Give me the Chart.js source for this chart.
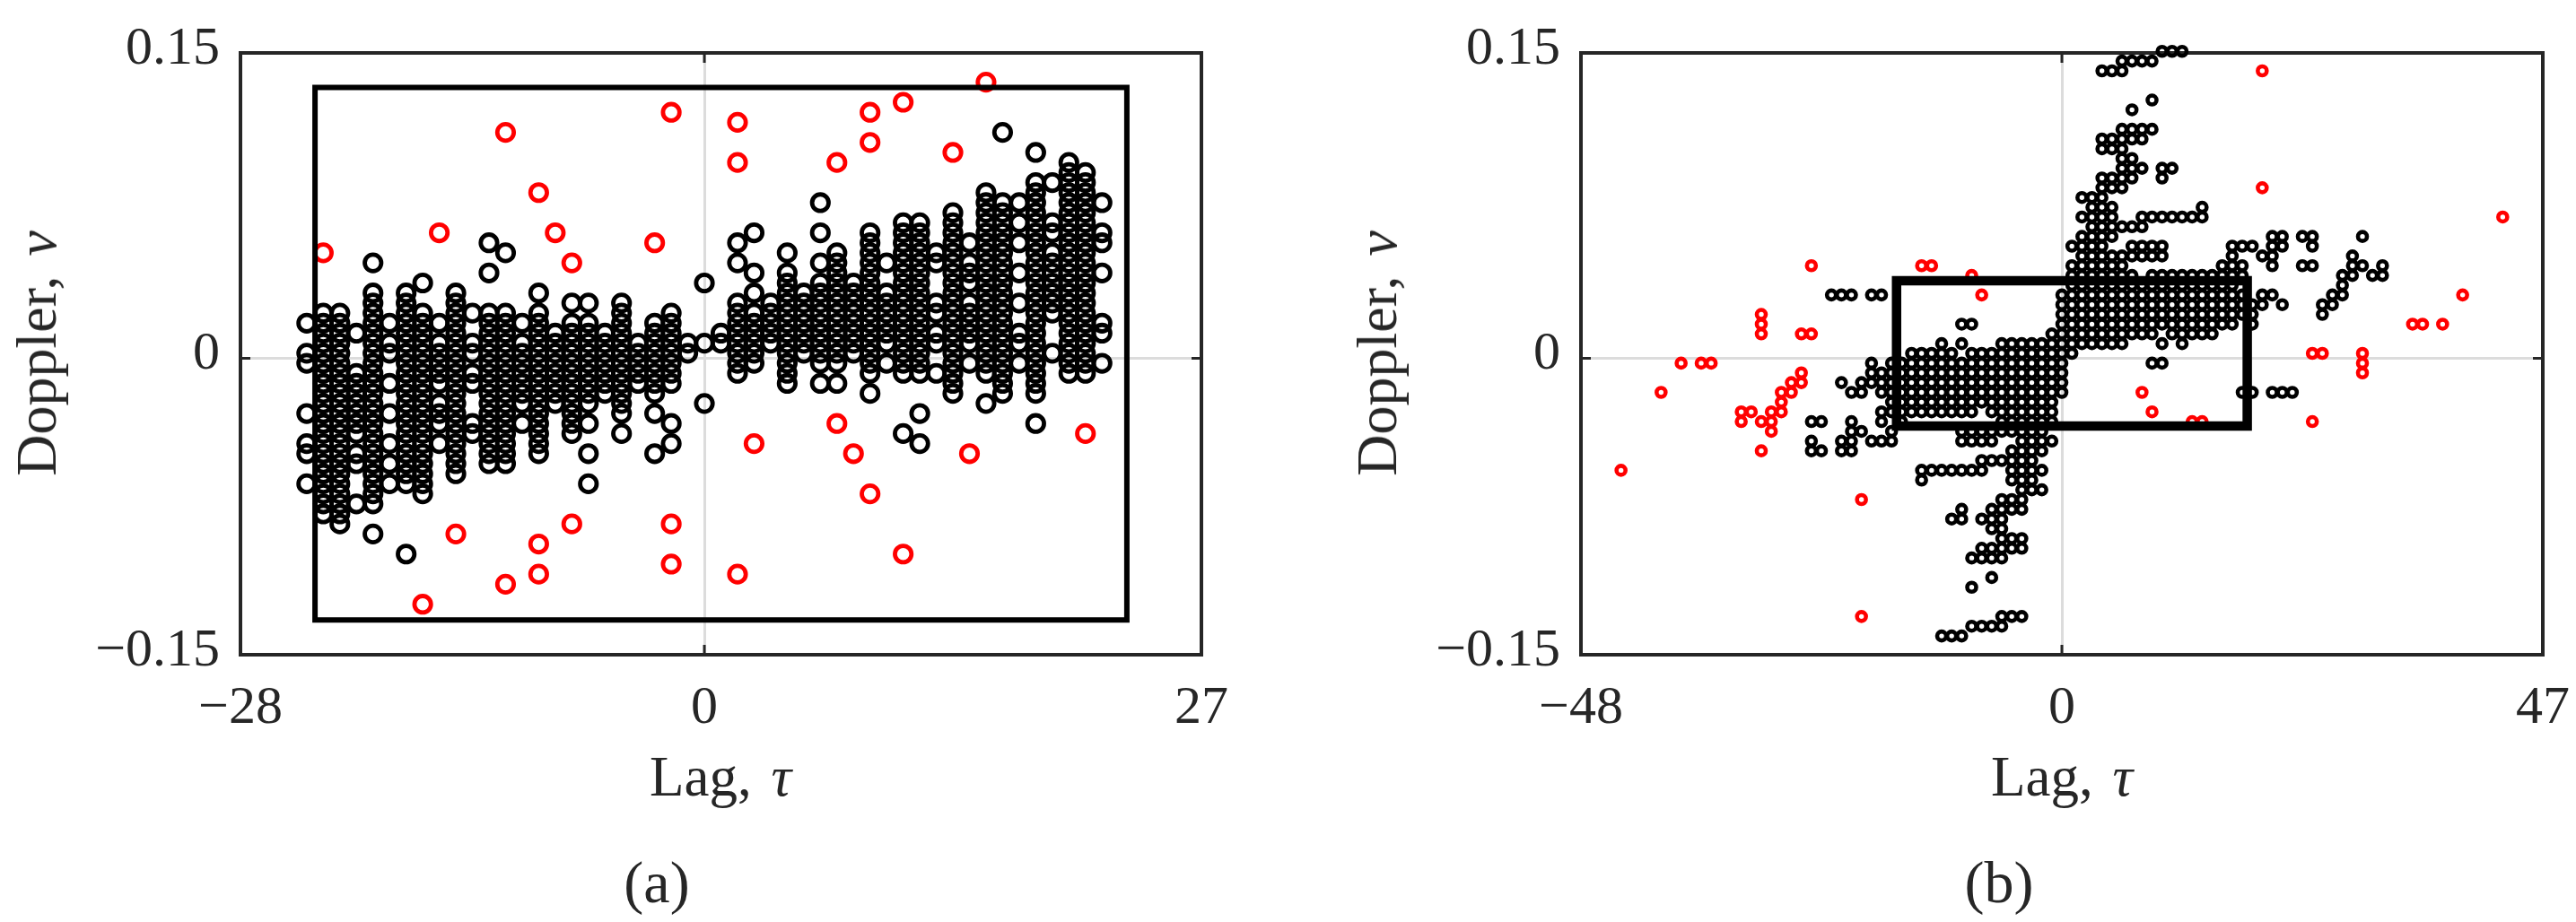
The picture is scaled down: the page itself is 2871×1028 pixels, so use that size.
<!DOCTYPE html>
<html>
<head>
<meta charset="utf-8">
<title>Lag-Doppler support</title>
<script src="https://cdn.jsdelivr.net/npm/chart.js@4/dist/chart.umd.min.js"></script>
<style>
    body { margin: 0; background: #fff; width: 2871px; height: 1028px; overflow: hidden; }
    canvas { position: absolute; top: 0; }
    .lbl { position: absolute; font-family: "Liberation Serif", serif; color: #262626; white-space: nowrap; line-height: 1; word-spacing: 6px; transform: translate(-50%, -50%); }
    .ylab { transform: translate(-50%, -50%) rotate(-90deg); }
</style>
</head>
<body>
<canvas id="chartA" width="1436" height="1028" style="left:0"></canvas>
<canvas id="chartB" width="1435" height="1028" style="left:1436px"></canvas>

<div class="lbl ylab" style="left:41px;top:394px;font-size:64px">Doppler, <i>ν</i></div>
<div class="lbl" style="left:803px;top:866px;font-size:63px">Lag, <i>τ</i></div>
<div class="lbl" style="left:732px;top:984px;font-size:66px">(a)</div>
<div class="lbl ylab" style="left:1535px;top:394px;font-size:64px">Doppler, <i>ν</i></div>
<div class="lbl" style="left:2298px;top:866px;font-size:63px">Lag, <i>τ</i></div>
<div class="lbl" style="left:2228px;top:984px;font-size:66px">(b)</div>

<script>
// doppler bin widths of the two panels (a bin k sits at (k + 0.5) * width)
const binWidthA = 0.00508;
const binWidthB = 0.00493;

// panel (a), black points: one list of doppler bins per lag
const lagsA = [-24, -23, -22, -21, -20, -19, -18, -17, -16, -15, -14, -13, -12, -11, -10, -9, -8, -7, -6, -5, -4, -3, -2, -1,
    0, 1, 2, 3, 4, 5, 6, 7, 8, 9, 10, 11, 12, 13, 14, 15, 16, 17, 18, 19, 20, 21, 22, 23, 24];
const binsA = [
    [3, 0, -1, -6, -9, -10, -13],
    [4, 3, 2, 1, 0, -1, -2, -3, -4, -5, -6, -7, -8, -9, -10, -11, -12, -13, -14, -15, -16],
    [4, 3, 2, 1, 0, -1, -2, -3, -4, -5, -6, -7, -8, -9, -10, -11, -12, -13, -14, -15, -16, -17],
    [2, -2, -3, -4, -5, -6, -7, -8, -10, -11, -15],
    [9, 6, 5, 4, 3, 2, 1, 0, -1, -2, -3, -4, -5, -6, -7, -8, -9, -10, -11, -12, -13, -14, -15, -18],
    [3, 1, 0, -3, -6, -9, -11, -13],
    [6, 5, 4, 3, 2, 1, 0, -1, -2, -3, -4, -5, -6, -7, -8, -9, -10, -11, -12, -13, -20],
    [7, 4, 3, 2, 1, 0, -1, -2, -3, -4, -5, -6, -7, -8, -9, -10, -11, -12, -13, -14],
    [3, 1, 0, -1, -2, -3, -5, -6, -7, -9],
    [6, 5, 4, 3, 2, 1, 0, -1, -2, -3, -4, -5, -6, -7, -8, -9, -10, -11, -12],
    [4, 1, 0, -2, -3, -7, -8],
    [11, 8, 4, 3, 2, 1, 0, -1, -2, -3, -4, -5, -6, -7, -8, -9, -10, -11],
    [10, 4, 3, 2, 1, 0, -1, -2, -3, -4, -5, -6, -7, -8, -9, -10, -11],
    [3, 1, 0, -1, -2, -3, -4, -5, -7],
    [6, 4, 3, 2, 1, 0, -1, -2, -3, -4, -5, -6, -7, -8, -9, -10],
    [2, 1, 0, -1, -2, -3, -4, -5],
    [5, 3, 2, 1, 0, -1, -2, -3, -4, -5, -6, -7, -8],
    [5, 3, 2, 1, 0, -1, -2, -3, -4, -5, -7, -10, -13],
    [2, 1, 0, -1, -2, -3, -4],
    [5, 4, 3, 2, 1, 0, -1, -2, -3, -4, -5, -6, -8],
    [1, 0, -1, -2, -3],
    [3, 2, 1, 0, -1, -2, -3, -4, -6, -10],
    [4, 3, 2, 1, 0, -1, -2, -3, -7, -9],
    [1, 0],
    [7, 1, -5],
    [2, 1],
    [11, 9, 5, 4, 3, 2, 1, 0, -1, -2],
    [12, 8, 6, 4, 3, 2, 1, 0, -1],
    [5, 4, 3, 2, 1],
    [10, 8, 7, 6, 5, 4, 3, 2, 1, 0, -1, -2, -3],
    [6, 5, 4, 3, 2, 1, 0],
    [15, 12, 9, 7, 6, 5, 4, 3, 2, 1, 0, -1, -3],
    [10, 9, 8, 7, 6, 5, 4, 3, 2, 1, 0, -1, -3],
    [7, 6, 5, 4, 3, 2, 1, 0],
    [12, 11, 10, 9, 8, 7, 6, 5, 4, 3, 2, 1, 0, -1, -2, -4],
    [9, 6, 5, 4, 3, 2, 1, -1],
    [13, 12, 11, 10, 9, 8, 7, 6, 5, 4, 3, 2, 1, 0, -1, -2, -8],
    [13, 12, 11, 10, 9, 8, 7, 6, 5, 4, 3, 2, 1, 0, -1, -2, -6, -9],
    [10, 9, 5, 4, 2, 1, -2],
    [14, 13, 12, 11, 10, 9, 8, 7, 6, 5, 4, 3, 2, 1, 0, -1, -2, -3, -4],
    [11, 9, 8, 7, 5, 4, 3, 2, 1, -1],
    [16, 15, 14, 13, 12, 11, 10, 9, 8, 7, 6, 5, 4, 3, 2, 1, 0, -1, -2, -5],
    [22, 15, 14, 13, 12, 11, 10, 9, 8, 7, 6, 5, 4, 3, 2, 1, 0, -1, -2, -3, -4],
    [15, 13, 11, 8, 5, 2, 1, -1],
    [20, 17, 16, 15, 14, 13, 12, 11, 10, 9, 8, 7, 6, 5, 4, 3, 2, 1, 0, -1, -2, -3, -4, -7],
    [17, 13, 12, 10, 9, 8, 7, 6, 5, 4, 0],
    [19, 18, 17, 16, 15, 14, 13, 12, 11, 10, 9, 8, 7, 6, 5, 4, 3, 2, 1, 0, -1, -2],
    [18, 17, 16, 15, 14, 13, 12, 11, 10, 9, 8, 7, 6, 5, 4, 3, 2, 1, 0, -1, -2],
    [15, 12, 11, 8, 3, 2, -1]
];

// panel (a), red points
const redLagA = [-23, -17, -16, -15, -12, -12, -10, -10, -10, -9, -8, -8, -3, -2, -2, -2, 2, 2, 2, 3, 8, 8, 9, 10, 10, 10, 12, 12, 15, 16, 17, 23];
const redBinA = [10, -25, 12, -18, 22, -23, 16, -19, -22, 12, 9, -17, 11, 24, -17, -21, 23, 19, -22, -9, 19, -7, -10, 24, 21, -14, 25, -20, 20, -10, 27, -8];

// panel (b), black points: one list of lags per doppler bin
const rowsB = [31, 30, 29, 26, 25, 23, 22, 21, 20, 19, 18, 17, 16, 15, 14, 13, 12, 11, 10, 9, 8, 7, 6, 5, 4, 3, 2, 1, 0,
    -1, -2, -3, -4, -5, -6, -7, -8, -9, -10, -11, -12, -13, -14, -15, -16, -17, -18, -19, -20, -21, -23, -24, -27, -28, -29];
const lagsB = [
    [10, 11, 12],
    [6, 7, 8, 9],
    [4, 5, 6],
    [9],
    [7],
    [6, 7, 8, 9],
    [4, 5, 6, 7, 8],
    [4, 5, 6],
    [6, 7],
    [6, 7, 8, 10, 11],
    [4, 5, 6, 7, 10],
    [4, 5, 6],
    [2, 3, 4],
    [3, 4, 5, 14],
    [2, 3, 4, 5, 8, 9, 10, 11, 12, 13, 14],
    [3, 4, 5, 6, 7, 8],
    [2, 3, 4, 5, 21, 22, 24, 25, 30],
    [1, 2, 3, 4, 7, 8, 9, 10, 17, 18, 19, 21, 22, 25],
    [2, 3, 4, 5, 6, 7, 8, 9, 10, 17, 20, 21, 29],
    [1, 2, 3, 4, 5, 6, 16, 17, 18, 21, 24, 25, 29, 30, 32],
    [1, 2, 3, 4, 5, 6, 7, 9, 10, 11, 12, 13, 14, 15, 16, 17, 18, 28, 29, 31, 32],
    [1, 2, 3, 4, 5, 6, 7, 8, 9, 10, 11, 12, 13, 14, 15, 16, 17, 28],
    [-23, -22, -21, -19, -18, 0, 1, 2, 3, 4, 5, 6, 7, 8, 9, 10, 11, 12, 13, 14, 15, 16, 17, 18, 20, 21, 27, 28],
    [0, 1, 2, 3, 4, 5, 6, 7, 8, 9, 10, 11, 12, 13, 14, 15, 16, 17, 18, 19, 20, 22, 26, 27],
    [0, 1, 2, 3, 4, 5, 6, 7, 8, 9, 10, 11, 12, 13, 14, 15, 16, 17, 18, 19, 26],
    [-10, -9, 0, 1, 2, 3, 4, 5, 6, 7, 8, 9, 10, 11, 12, 13, 14, 15, 16, 17, 19],
    [-1, 0, 1, 2, 3, 4, 5, 6, 7, 8, 9, 11, 12, 13, 14, 15],
    [-12, -10, -6, -5, -4, -3, -2, -1, 0, 1, 2, 3, 4, 5, 6, 10, 12],
    [-15, -14, -13, -12, -11, -9, -8, -7, -6, -5, -4, -3, -2, -1, 0, 1],
    [-19, -17, -16, -15, -14, -13, -12, -11, -10, -9, -8, -7, -6, -5, -4, -3, -2, -1, 0, 9, 10],
    [-19, -18, -17, -16, -15, -14, -13, -12, -11, -10, -9, -8, -7, -6, -5, -4, -3, -2, -1, 0],
    [-22, -20, -19, -18, -17, -16, -15, -14, -13, -12, -11, -10, -9, -8, -7, -6, -5, -4, -3, -2, -1, 0],
    [-21, -20, -18, -17, -16, -15, -14, -13, -12, -11, -10, -9, -8, -7, -6, -5, -4, -3, -2, -1, 0, 18, 19, 21, 22, 23],
    [-17, -16, -15, -14, -13, -12, -11, -10, -9, -8, -7, -6, -5, -4, -3, -2, -1],
    [-18, -17, -16, -15, -14, -13, -12, -11, -10, -9, -7, -6, -5, -4, -3, -2, -1],
    [-25, -24, -21, -18, -16, -6, -5, -4, -3, -2, -1],
    [-21, -20, -17, -10, -9, -8, -7, -6, -5, -4, -3, -2],
    [-25, -22, -21, -19, -18, -17, -10, -9, -8, -7, -4, -3, -2, -1],
    [-25, -24, -22, -21, -5, -4, -3, -2],
    [-8, -7, -6, -5, -4, -3],
    [-14, -13, -12, -11, -10, -9, -8, -5, -4, -3, -2],
    [-14, -5, -4, -3],
    [-4, -3, -2],
    [-6, -5, -4],
    [-10, -7, -6, -5, -4],
    [-11, -10, -8, -7, -6],
    [-7, -6],
    [-6, -5, -4],
    [-8, -7, -6, -5, -4],
    [-9, -8, -7, -6],
    [-7],
    [-9],
    [-6, -5, -4],
    [-9, -8, -7, -6],
    [-12, -11, -10]
];

// panel (b), red points
const redLagB = [20, 20, 44, -14, -13, -25, -9, -8, 40, 35, 36, 38, -30, -30, -30, -26, -25, 25, 26, 30, 30, 30, -38, -36, -35, -26, -27, -26, -40, -28, -27, -28,
    -32, -31, -29, -28, -32, -30, -29, -29, -30, -44, 8, 9, 13, 14, 25, -20, -20];
const redBinB = [29, 17, 14, 9, 9, 9, 8, 6, 6, 3, 3, 3, 4, 3, 2, 2, 2, 0, 0, 0, -1, -2, -1, -1, -1, -2, -3, -3, -4, -4, -4, -5,
    -6, -6, -6, -6, -7, -7, -7, -8, -10, -12, -4, -6, -7, -7, -7, -15, -27];

// the rectangles drawn over the points
const boxLagA = [-23.5, 25.5, 25.5, -23.5, -23.5];
const boxNuA = [0.137, 0.137, -0.1324, -0.1324, 0.137];
const boxLagB = [-16.5, 18.5, 18.5, -16.5, -16.5];
const boxNuB = [0.0392, 0.0392, -0.0343, -0.0343, 0.0392];

// axis ends and what the reference prints at them
const xTicksA = [-28, 0, 30];
const xTickLabelsA = ["\u221228", "0", "27"];
const xTicksB = [-48, 0, 48];
const xTickLabelsB = ["\u221248", "0", "47"];
const yTicks = [-0.15, 0, 0.1545];
const yTickLabels = ["\u22120.15", "0", "0.15"];

function toPoints(xs, ys) {
    return xs.map((x, i) => ({ x: x, y: ys[i] }));
}

const blackA = [];
lagsA.forEach((lag, i) => binsA[i].forEach(k => blackA.push({ x: lag, y: (k + 0.5) * binWidthA })));

const blackB = [];
rowsB.forEach((k, i) => lagsB[i].forEach(lag => blackB.push({ x: lag, y: (k + 0.5) * binWidthB })));

const redA = toPoints(redLagA, redBinA.map(k => (k + 0.5) * binWidthA));
const redB = toPoints(redLagB, redBinB.map(k => (k + 0.5) * binWidthB));

// frame and the short inward ticks at zero, under the points
const framePlugin = {
    id: "frame",
    beforeDatasetsDraw(chart) {
        const a = chart.chartArea;
        const ctx = chart.ctx;
        const x0 = chart.scales.x.getPixelForValue(0);
        const y0 = chart.scales.y.getPixelForValue(0);
        ctx.save();
        ctx.strokeStyle = "#262626";
        ctx.lineWidth = 4;
        ctx.strokeRect(a.left, a.top, a.right - a.left, a.bottom - a.top);
        ctx.lineWidth = 3;
        ctx.beginPath();
        ctx.moveTo(x0, a.top); ctx.lineTo(x0, a.top + 11);
        ctx.moveTo(x0, a.bottom); ctx.lineTo(x0, a.bottom - 11);
        ctx.moveTo(a.left, y0); ctx.lineTo(a.left + 11, y0);
        ctx.moveTo(a.right, y0); ctx.lineTo(a.right - 11, y0);
        ctx.stroke();
        ctx.restore();
    }
};

function zeroGrid(ctx) {
    return ctx.tick && ctx.tick.value === 0 ? "#dcdcdc" : "rgba(0,0,0,0)";
}

function drawPanel(id, p) {
    new Chart(document.getElementById(id), {
        type: "scatter",
        data: {
            datasets: [
                {
                    data: toPoints(p.boxX, p.boxY), showLine: true, order: 0, clip: false,
                    borderColor: "#000", borderWidth: p.boxWidth, borderJoinStyle: "miter", borderCapStyle: "square",
                    pointRadius: 0, tension: 0
                },
                {
                    data: p.red, order: 1, clip: false,
                    pointRadius: p.radius, pointBorderWidth: p.stroke,
                    pointBorderColor: "#ff0000", pointBackgroundColor: "rgba(0,0,0,0)"
                },
                {
                    data: p.black, order: 2, clip: false,
                    pointRadius: p.radius, pointBorderWidth: p.stroke,
                    pointBorderColor: "#000", pointBackgroundColor: "rgba(0,0,0,0)"
                }
            ]
        },
        options: {
            responsive: false,
            animation: false,
            devicePixelRatio: 1,
            events: [],
            layout: { padding: { top: 56, right: p.rightPad, left: 0, bottom: 0 } },
            plugins: { legend: { display: false }, tooltip: { enabled: false } },
            scales: {
                x: {
                    type: "linear",
                    min: p.xTicks[0],
                    max: p.xTicks[2],
                    afterBuildTicks: s => { s.ticks = p.xTicks.map(v => ({ value: v })); },
                    afterFit: s => { s.height = 298; },
                    border: { display: false },
                    grid: { color: zeroGrid, lineWidth: 3, drawTicks: false },
                    ticks: {
                        autoSkip: false, maxRotation: 0, padding: 24, color: "#262626",
                        font: { family: "Liberation Serif", size: 60 },
                        callback: v => p.xLabels[p.xTicks.indexOf(v)]
                    }
                },
                y: {
                    type: "linear",
                    min: yTicks[0],
                    max: yTicks[2],
                    afterBuildTicks: s => { s.ticks = yTicks.map(v => ({ value: v })); },
                    afterFit: s => { s.width = p.leftWidth; },
                    border: { display: false },
                    grid: { color: zeroGrid, lineWidth: 3, drawTicks: false },
                    ticks: {
                        autoSkip: false, padding: 23, labelOffset: -4, color: "#262626",
                        font: { family: "Liberation Serif", size: 60 },
                        callback: v => yTickLabels[yTicks.indexOf(v)]
                    }
                }
            }
        },
        plugins: [framePlugin]
    });
}

drawPanel("chartA", {
    black: blackA, red: redA, boxX: boxLagA, boxY: boxNuA, boxWidth: 6, radius: 9.2, stroke: 4.8,
    xTicks: xTicksA, xLabels: xTickLabelsA, leftWidth: 268, rightPad: 97
});

// canvas b runs past the window edge so the chart's tick padding does not pull its frame in
document.getElementById("chartB").width = 1475;
drawPanel("chartB", {
    black: blackB, red: redB, boxX: boxLagB, boxY: boxNuB, boxWidth: 10.5, radius: 5, stroke: 4.6,
    xTicks: xTicksB, xLabels: xTickLabelsB, leftWidth: 326, rightPad: 77
});
</script>
</body>
</html>
